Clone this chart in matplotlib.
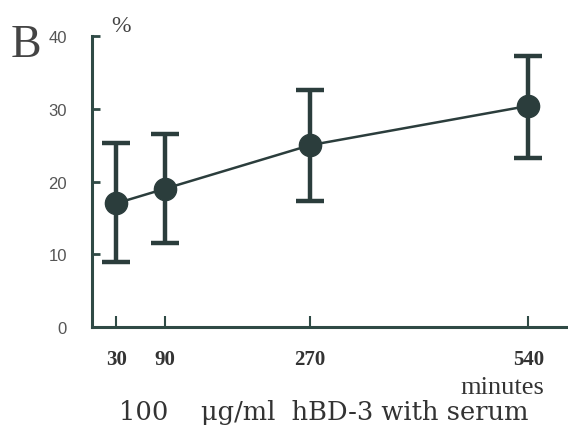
import matplotlib
matplotlib.use("Agg")
import matplotlib.pyplot as plt

times = [30, 90, 270, 540]
means = [17.0, 19.0, 25.0, 30.4]
lower = [9.0, 11.5, 17.3, 23.2]
upper = [25.3, 26.5, 32.6, 37.2]
yticks = [0, 10, 20, 30, 40]

err_lo = [m - l for m, l in zip(means, lower)]
err_hi = [u - m for m, u in zip(means, upper)]

col = "#2b3d3c"
spine_col = "#2f4a45"

fig = plt.figure(figsize=(5.68, 4.31), dpi=100)
ax = fig.add_axes([0.162, 0.239, 0.838, 0.675])
ax.errorbar(times, means, yerr=[err_lo, err_hi], color=col, lw=1.8,
            marker="o", ms=16, mfc=col, mec=col, elinewidth=3.2,
            capsize=10, capthick=3.2)
ax.set_xlim(0, 589)
ax.set_ylim(0, 40)
for s in ["top", "right"]:
    ax.spines[s].set_visible(False)
for s in ["left", "bottom"]:
    ax.spines[s].set_color(spine_col)
    ax.spines[s].set_linewidth(2.2)
ax.set_yticks(yticks)
ax.set_yticklabels([str(v) for v in yticks], fontsize=12, color="#555555",
                   family="Liberation Sans")
ax.set_xticks(times)
ax.set_xticklabels([str(t) for t in times], fontsize=15, fontweight="bold",
                   family="Liberation Serif", color="#333333")
ax.tick_params(axis="y", direction="in", length=6, width=2, color=spine_col, pad=18)
ax.tick_params(axis="x", direction="in", length=8, width=1.5, color=spine_col, pad=16)

fig.text(0.018, 0.868, "B", fontsize=33, family="Liberation Serif", color="#444444")
fig.text(0.196, 0.925, "%", fontsize=17, family="Liberation Serif", color="#444444")
fig.text(0.885, 0.085, "minutes", fontsize=19, family="Liberation Serif",
         color="#333333", ha="center")
fig.text(0.570, 0.025, "100    \u03bcg/ml  hBD-3 with serum", fontsize=18.5,
         family="DejaVu Serif", color="#333333", ha="center")

fig.savefig("out.png", dpi=100)
